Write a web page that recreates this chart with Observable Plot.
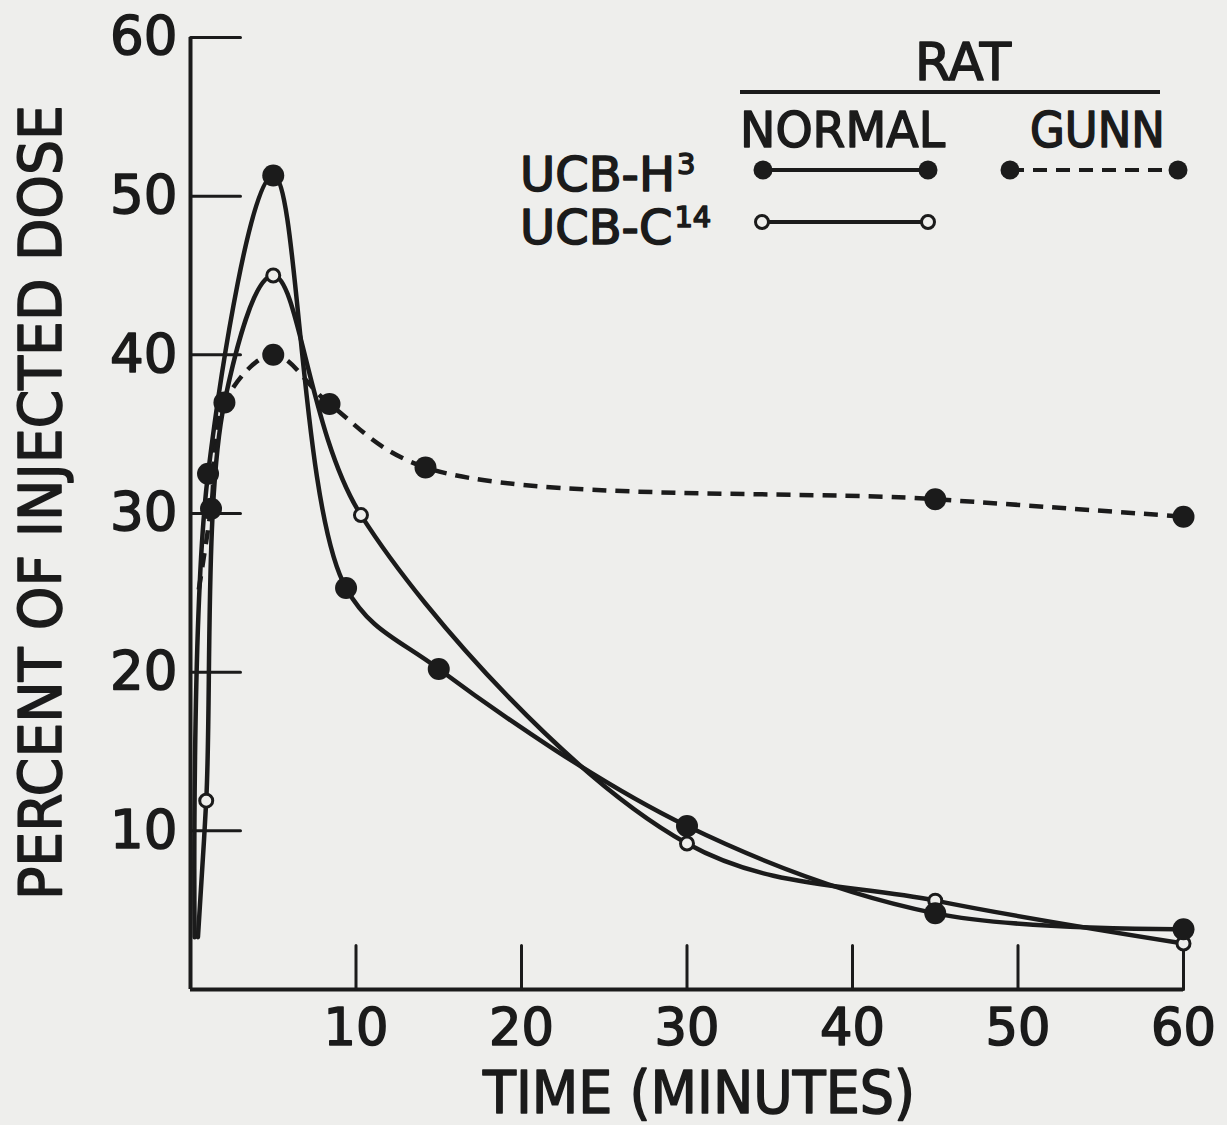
<!DOCTYPE html>
<html>
<head>
<meta charset="utf-8">
<script src="https://cdn.jsdelivr.net/npm/d3@7"></script>
<script src="https://cdn.jsdelivr.net/npm/@observablehq/plot@0.6"></script>
<style>
  html, body { margin: 0; padding: 0; background: #eeeeec; }
  #chart { width: 1227px; height: 1125px; }
  #chart svg { display: block; }
</style>
</head>
<body>
<div id="chart"></div>
<script>
// Plasma disappearance of labelled unconjugated bilirubin (UCB), percent of injected dose vs time.
const xTicks = [10, 20, 30, 40, 50, 60];
const yTicks = [10, 20, 30, 40, 50, 60];

// Normal rat, UCB-H3 (filled dots, solid line)
const normalH3Time = [1.06, 5, 9.4, 15, 30, 45, 60];
const normalH3Pct  = [32.5, 51.3, 25.3, 20.2, 10.3, 4.8, 3.8];
// Normal rat, UCB-C14 (open dots, solid line)
const normalC14Time = [0.95, 2.05, 5, 10.3, 30, 45, 60];
const normalC14Pct  = [11.9, 37.0, 45.0, 29.9, 9.2, 5.6, 2.9];
// Gunn rat, UCB-H3 (filled dots, dashed line)
const gunnH3Time = [1.24, 2.05, 5, 8.4, 14.2, 45, 60];
const gunnH3Pct  = [30.3, 37.0, 40.0, 36.9, 32.9, 30.9, 29.8];

// Where each hand-drawn curve begins, [time, percent]
const normalH3Start  = [0.25, 3.3];
const normalC14Start = [0.45, 3.3];
const gunnH3Start    = [0.5, 25.2];

const ink = "#1b1b1b";
const paper = "#eeeeec";
const font = "'DejaVu Sans', Lato, sans-serif";

const points = (times, pcts) => times.map((t, i) => ({t, p: pcts[i]}));
const curve = (start, times, pcts) => [{t: start[0], p: start[1]}, ...points(times, pcts)];

const lineStyle = {x: "t", y: "p", curve: "catmull-rom", stroke: ink, strokeWidth: 4.5, strokeLinecap: "round"};
const gunnDash = "14,9";
const filledDot = {x: "t", y: "p", r: 11, fill: ink, stroke: "none"};
const openDot = {x: "t", y: "p", r: 6.5, fill: paper, stroke: ink, strokeWidth: 3};

const chart = Plot.plot({
  width: 1227,
  height: 1125,
  marginLeft: 190,
  marginRight: 44,
  marginTop: 37,
  marginBottom: 136,
  style: {background: paper, color: ink, fontFamily: font},
  x: {domain: [0, 60]},
  y: {domain: [0, 60]},
  marks: [
    // axis frame lines
    Plot.ruleX([0], {y1: 0, y2: 60, stroke: ink, strokeWidth: 4}),
    Plot.ruleY([0], {x1: 0, x2: 60, stroke: ink, strokeWidth: 4}),
    // inward tick marks
    Plot.vector(yTicks, {x: 0, y: d => d, length: 50, rotate: 90, anchor: "start", shape: "spike", r: 0, stroke: ink, strokeWidth: 3}),
    Plot.vector(xTicks, {x: d => d, y: 0, length: 44, rotate: 0, anchor: "start", shape: "spike", r: 0, stroke: ink, strokeWidth: 3}),
    Plot.axisY({ticks: yTicks, tickSize: 0, tickPadding: 13, fontSize: 53, label: null}),
    Plot.axisX({ticks: xTicks, tickSize: 0, tickPadding: 19, fontSize: 51, label: null}),
    // curves
    Plot.line(curve(gunnH3Start, gunnH3Time, gunnH3Pct), {...lineStyle, strokeDasharray: gunnDash, strokeLinecap: "butt"}),
    Plot.line(curve(normalC14Start, normalC14Time, normalC14Pct), lineStyle),
    Plot.line(curve(normalH3Start, normalH3Time, normalH3Pct), lineStyle),
    // measured points
    Plot.dot(points(normalC14Time, normalC14Pct), openDot),
    Plot.dot(points(gunnH3Time, gunnH3Pct), filledDot),
    Plot.dot(points(normalH3Time, normalH3Pct), filledDot),
    // axis titles
    Plot.text(["TIME (MINUTES)"], {frameAnchor: "bottom", textAnchor: "middle", dx: 12, dy: 123, lineAnchor: "bottom", fontSize: 59, fill: ink}),
    Plot.text(["PERCENT OF INJECTED DOSE"], {frameAnchor: "left", textAnchor: "middle", dx: -148, dy: -11, rotate: -90, lineAnchor: "middle", fontSize: 58, fill: ink})
  ]
});

document.getElementById("chart").appendChild(chart);

const svg = d3.select(chart);

// condense the axis titles to their lettering width
const fit = (label, len) => svg.selectAll("text")
  .filter(function () { return this.textContent === label; })
  .attr("textLength", len).attr("lengthAdjust", "spacingAndGlyphs");
fit("TIME (MINUTES)", 432);
fit("PERCENT OF INJECTED DOSE", 795);

// legend: RAT / NORMAL, GUNN columns; UCB-H3, UCB-C14 rows
const lg = svg.append("g").attr("font-family", font).attr("fill", ink).attr("text-anchor", "start");
lg.append("text").attr("x", 963).attr("y", 80).attr("text-anchor", "middle").attr("font-size", 52)
  .attr("textLength", 96).attr("lengthAdjust", "spacingAndGlyphs").text("RAT");
lg.append("line").attr("x1", 740).attr("x2", 1160).attr("y1", 92).attr("y2", 92).attr("stroke", ink).attr("stroke-width", 4);
lg.append("text").attr("x", 740).attr("y", 147).attr("font-size", 50)
  .attr("textLength", 205).attr("lengthAdjust", "spacingAndGlyphs").text("NORMAL");
lg.append("text").attr("x", 1030).attr("y", 147).attr("font-size", 50)
  .attr("textLength", 135).attr("lengthAdjust", "spacingAndGlyphs").text("GUNN");

const rowLabel = (y, base, sup) => {
  const t = lg.append("text").attr("x", 520).attr("y", y).attr("font-size", 48);
  t.append("tspan").text(base);
  t.append("tspan").attr("font-size", 29).attr("dx", 2).attr("dy", -17).text(sup);
};
rowLabel(191, "UCB-H", "3");
rowLabel(244, "UCB-C", "14");

const sample = (x1, x2, y, dash, open) => {
  lg.append("line").attr("x1", x1).attr("x2", x2).attr("y1", y).attr("y2", y)
    .attr("stroke", ink).attr("stroke-width", 4).attr("stroke-dasharray", dash);
  for (const x of [x1, x2]) {
    lg.append("circle").attr("cx", x).attr("cy", y)
      .attr("r", open ? openDot.r : 9.5)
      .attr("fill", open ? paper : ink)
      .attr("stroke", open ? ink : "none").attr("stroke-width", 3);
  }
};
sample(763, 928, 170, null, false);
sample(1010, 1178, 170, gunnDash, false);
sample(762, 928, 222, null, true);

// heavier lettering, as drawn with a lettering pen
svg.selectAll("text").attr("font-family", font)
  .attr("stroke", ink).attr("stroke-width", 1.6).attr("stroke-linejoin", "round");
</script>
</body>
</html>
